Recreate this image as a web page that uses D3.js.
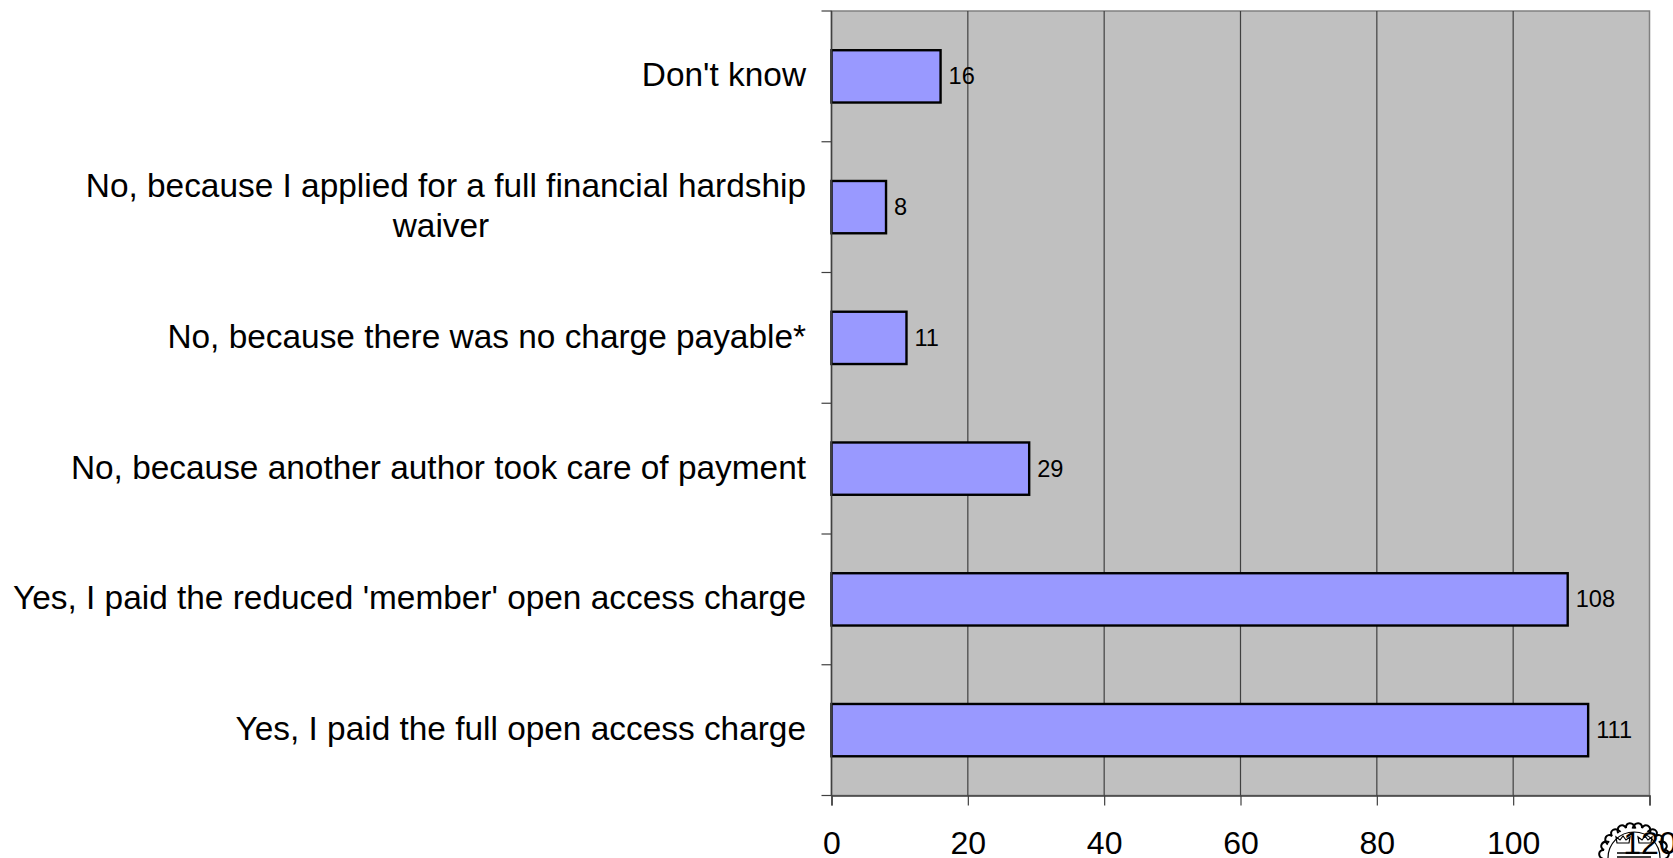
<!DOCTYPE html>
<html>
<head>
<meta charset="utf-8">
<script src="https://cdn.jsdelivr.net/npm/d3@7"></script>
<style>
html, body { margin: 0; padding: 0; background: #fff; overflow: hidden; }
text { font-family: "Liberation Sans", Arial, sans-serif; fill: #000; }
</style>
</head>
<body>
<div id="root"></div>
<script>
const categories = [
    ["Don't know"],
    ["No, because I applied for a full financial hardship", "waiver"],
    ["No, because there was no charge payable*"],
    ["No, because another author took care of payment"],
    ["Yes, I paid the reduced 'member' open access charge"],
    ["Yes, I paid the full open access charge"]
];
const values = [16, 8, 11, 29, 108, 111];
const xTicks = [0, 20, 40, 60, 80, 100, 120];

const width = 1673,
    height = 858;
const plotLeft = 831.5,
    plotRight = 1649.5,
    plotTop = 11,
    plotBottom = 795.5;

const svg = d3.select("#root").append("svg")
    .attr("width", width)
    .attr("height", height)
    .style("display", "block");

const x = d3.scaleLinear().domain([0, 120]).range([plotLeft, plotRight]);
const y = d3.scaleBand().domain(d3.range(categories.length)).range([plotTop, plotBottom]).paddingInner(0.6).paddingOuter(0.3);

// crest in the corner, sits under the axis labels
const crest = svg.append("g")
    .attr("transform", "translate(1634,858)")
    .attr("fill", "none")
    .attr("stroke", "#000");
crest.append("circle").attr("r", 26).attr("stroke-width", 1.2);
crest.selectAll(".scallop")
    .data(d3.range(-75, 76, 30))
    .enter()
    .append("path")
    .attr("class", "scallop")
    .attr("stroke-width", 2)
    .attr("transform", d => `rotate(${d}) translate(0,-29)`)
    .attr("d", "M-9,1 C-9,-7 -1,-8 0,-2 C1,-8 9,-7 9,1");
crest.selectAll(".crown")
    .data([-11, 11])
    .enter()
    .append("path")
    .attr("class", "crown")
    .attr("stroke-width", 1.2)
    .attr("d", d => `M${d - 6},-15 L${d - 7},-21 L${d - 3},-18 L${d},-22 L${d + 3},-18 L${d + 7},-21 L${d + 6},-15 Z`);
crest.append("path")
    .attr("stroke-width", 1.5)
    .attr("d", "M-17,-5 L17,-5 M-17,-1 L17,-1");

// plot background
svg.append("rect")
    .attr("x", plotLeft).attr("y", plotTop)
    .attr("width", plotRight - plotLeft).attr("height", plotBottom - plotTop)
    .attr("fill", "#c0c0c0")
    .attr("stroke", "#808080")
    .attr("stroke-width", 1.5);

// grid lines
svg.selectAll(".grid")
    .data(xTicks.slice(1, -1))
    .enter()
    .append("line")
    .attr("class", "grid")
    .attr("x1", d => x(d)).attr("x2", d => x(d))
    .attr("y1", plotTop).attr("y2", plotBottom)
    .attr("stroke", "#404040")
    .attr("stroke-width", 1.2);

// bars
svg.selectAll(".bar")
    .data(values)
    .enter()
    .append("rect")
    .attr("class", "bar")
    .attr("x", x(0))
    .attr("y", (d, i) => y(i))
    .attr("width", d => x(d) - x(0))
    .attr("height", y.bandwidth())
    .attr("fill", "#9999ff")
    .attr("stroke", "#000")
    .attr("stroke-width", 2.4);

// value labels
svg.selectAll(".value")
    .data(values)
    .enter()
    .append("text")
    .attr("class", "value")
    .attr("x", d => x(d) + 8)
    .attr("y", (d, i) => y(i) + y.bandwidth() / 2 + 8)
    .attr("font-size", 23.6)
    .text(d => d);

// category labels, first line of the wrapped one stays right aligned
const label = svg.selectAll(".label")
    .data(categories)
    .enter()
    .append("text")
    .attr("class", "label")
    .attr("font-size", 33.4);

label.selectAll("tspan")
    .data((d, i) => d.map((t, j) => ({ t, j, n: d.length, i })))
    .enter()
    .append("tspan")
    .attr("x", d => d.j > 0 ? 441 : 806)
    .attr("text-anchor", d => d.j > 0 ? "middle" : "end")
    .attr("y", d => y(d.i) + y.bandwidth() / 2 + 10 + (d.j - (d.n - 1) / 2) * 40)
    .text(d => d.t);

// x axis
const xAxis = d3.axisBottom(x).tickValues(xTicks).tickSize(10).tickPadding(25.5);
const xg = svg.append("g")
    .attr("transform", `translate(0,${plotBottom})`)
    .call(xAxis);
xg.select(".domain").attr("stroke", "#404040").attr("stroke-width", 1.5);
xg.selectAll("line").attr("stroke", "#404040").attr("stroke-width", 1.2);
xg.selectAll("text").attr("font-size", 32).attr("font-family", '"Liberation Sans", Arial, sans-serif');

// y axis with ticks between the categories
const yTickPos = d3.range(categories.length + 1).map(i => plotTop + (plotBottom - plotTop) * i / categories.length);
svg.selectAll(".ytick")
    .data(yTickPos)
    .enter()
    .append("line")
    .attr("class", "ytick")
    .attr("x1", plotLeft - 10).attr("x2", plotLeft)
    .attr("y1", d => d).attr("y2", d => d)
    .attr("stroke", "#404040")
    .attr("stroke-width", 1.2);
svg.append("line")
    .attr("x1", plotLeft).attr("x2", plotLeft)
    .attr("y1", plotTop).attr("y2", plotBottom)
    .attr("stroke", "#404040")
    .attr("stroke-width", 1.5);
</script>
</body>
</html>
